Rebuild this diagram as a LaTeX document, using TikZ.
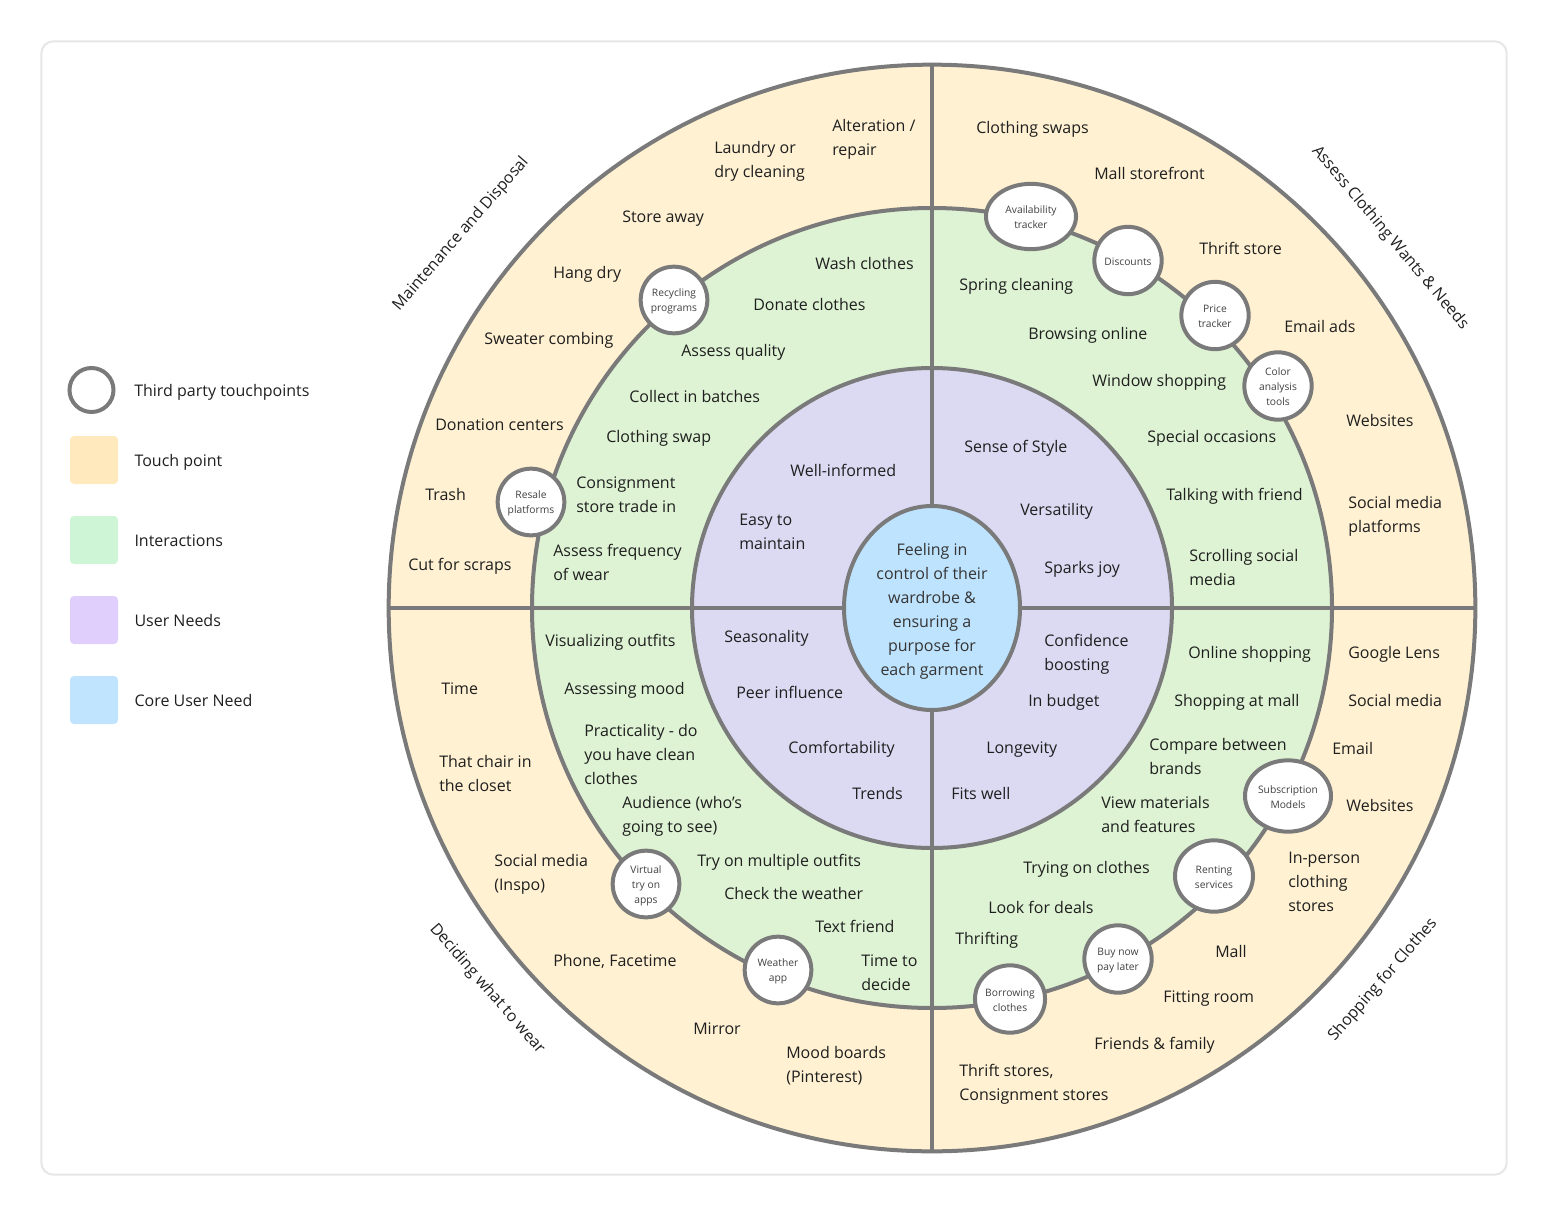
\documentclass[tikz,border=0pt]{standalone}
\usepackage{fontspec}
\setmainfont{Open Sans}
\usetikzlibrary{shapes.geometric,positioning}
\definecolor{linegrey}{HTML}{7A7A7A}
\definecolor{cardline}{HTML}{E6E6E6}
\definecolor{inktext}{HTML}{1F1F1F}
\definecolor{touchfill}{HTML}{FFF1D2}
\definecolor{greenfill}{HTML}{DDF3D3}
\definecolor{purplefill}{HTML}{DCD9F3}
\definecolor{corefill}{HTML}{BEE3FE}
\definecolor{legtouch}{HTML}{FFE9BD}
\definecolor{leggreen}{HTML}{CFF5D7}
\definecolor{legpurple}{HTML}{E0CFFD}
\definecolor{legcore}{HTML}{C1E4FE}
\newcommand{\thirdedge}{\rule[-1pt]{0pt}{9pt}}
\newcommand{\coreedge}{\rule[-2.2pt]{0pt}{16pt}}
\begin{document}
\begin{tikzpicture}[x=0.75pt, y=-0.75pt, node distance={60pt},
	ring/.style = {draw=linegrey, line width=3pt, circle, inner sep=0pt},
	third/.style = {draw=linegrey, line width=3pt, ellipse, fill=white, inner sep=0pt, align=center, text=inktext!85, font=\fontsize{7.7}{11.2}\selectfont},
	txt/.style = {anchor=west, align=left, inner sep=0pt, text=inktext, font=\fontsize{12}{18}\selectfont, execute at begin node={\rule[-2.9pt]{0pt}{16pt}}, execute at end node={\rule[-2.9pt]{0pt}{16pt}}},
	swatch/.style = {rounded corners=3pt, minimum size=36pt, inner sep=0pt},
	side/.style = {inner sep=0pt, text=inktext, font=\fontsize{12}{18}\selectfont}]
	\useasboundingbox (0,0) rectangle (1548,1216);
	\node[draw=cardline, line width=1.5pt, rounded corners=9pt, minimum width=1099pt, minimum height=850pt] (card) at (774,608) {};
	% rings
	\node[ring, fill=touchfill, minimum size=815pt] (outer) at (932,608) {};
	\node[ring, fill=greenfill, minimum size=600pt] (inter) at (932,608) {};
	\node[ring, fill=purplefill, minimum size=360pt] (needs) at (932,608) {};
	\node[draw=linegrey, line width=3pt, ellipse, fill=corefill, inner sep=0pt, minimum width=132pt, minimum height=153pt, align=center, text=inktext!90, font=\fontsize{12}{18}\selectfont] (core) at (932,608) {\coreedge Feeling in\\control of their\\wardrobe \&\\ensuring a\\purpose for\\each garment\coreedge};
	\draw[draw=linegrey, line width=3pt] (outer.north) -- (core.north);
	\draw[draw=linegrey, line width=3pt] (outer.south) -- (core.south);
	\draw[draw=linegrey, line width=3pt] (outer.west) -- (core.west);
	\draw[draw=linegrey, line width=3pt] (outer.east) -- (core.east);
	% third party touchpoints
	\node[third, minimum width=67.5pt, minimum height=49pt] (avail) at (1031,216.5) {\thirdedge Availability\\tracker\thirdedge};
	\node[third, minimum size=50.5pt] (discounts) at (1128,260.5) {\thirdedge Discounts};
	\node[third, minimum size=50.5pt] (price) at (1215,315.5) {\thirdedge Price\\tracker\thirdedge};
	\node[third, minimum size=50.5pt] (color) at (1278,386) {\thirdedge Color\\analysis\\tools\thirdedge};
	\node[third, minimum width=64.5pt, minimum height=53.5pt] (subscr) at (1288,796) {\thirdedge Subscription\\Models\thirdedge};
	\node[third, minimum width=58.5pt, minimum height=53.5pt] (renting) at (1214,876) {\thirdedge Renting\\services\thirdedge};
	\node[third, minimum size=50.5pt] (buynow) at (1118,959) {\thirdedge Buy now\\pay later\thirdedge};
	\node[third, minimum size=50.5pt] (borrow) at (1010,999) {\thirdedge Borrowing\\clothes\thirdedge};
	\node[third, minimum size=50pt] (weather) at (778,970) {\thirdedge Weather\\app\thirdedge};
	\node[third, minimum size=50pt] (virtual) at (646,884) {\thirdedge Virtual\\try on\\apps\thirdedge};
	\node[third, minimum size=50pt] (resale) at (531,502) {\thirdedge Resale\\platforms\thirdedge};
	\node[third, minimum size=50pt] (recycle) at (674,300) {\thirdedge Recycling\\programs\thirdedge};
	% touch points
	\node[txt] (swaps) at (976,127) {Clothing swaps};
	\node[txt] (mall1) at (1094,173) {Mall storefront};
	\node[txt] (thrift) at (1199,248) {Thrift store};
	\node[txt] (email1) at (1284,326) {Email ads};
	\node[txt] (web1) at (1346,420) {Websites};
	\node[txt] (social1) at (1348,516.5) {Social media\\platforms};
	\node[txt] (lens) at (1348,652) {Google Lens};
	\node[txt] (social2) at (1348,700) {Social media};
	\node[txt] (email2) at (1332,748) {Email};
	\node[txt] (web2) at (1346,805) {Websites};
	\node[txt] (inperson) at (1288,883.5) {In-person\\clothing\\stores};
	\node[txt] (mall2) at (1215,951) {Mall};
	\node[txt] (fitting) at (1163,996) {Fitting room};
	\node[txt] (friends) at (1094,1043) {Friends \& family};
	\node[txt] (thriftst) at (959,1084.5) {Thrift stores,\\Consignment stores};
	\node[txt] (time) at (441,688) {Time};
	\node[txt] (chair) at (439,775.5) {That chair in\\the closet};
	\node[txt] (inspo) at (494,874.5) {Social media\\(Inspo)};
	\node[txt] (phone) at (553,960) {Phone, Facetime};
	\node[txt] (mirror) at (693,1028) {Mirror};
	\node[txt] (mood) at (786,1066.5) {Mood boards\\(Pinterest)};
	\node[txt] (alter) at (832,139.5) {Alteration /\\repair};
	\node[txt] (laundry) at (714,161.5) {Laundry or\\dry cleaning};
	\node[txt] (store) at (622,216) {Store away};
	\node[txt] (hang) at (553,272) {Hang dry};
	\node[txt] (sweater) at (484,338) {Sweater combing};
	\node[txt] (donation) at (435,424) {Donation centers};
	\node[txt] (trash) at (425,494) {Trash};
	\node[txt] (scraps) at (408,564) {Cut for scraps};
	% interactions
	\node[txt] (spring) at (959,284) {Spring cleaning};
	\node[txt] (browse) at (1028,333) {Browsing online};
	\node[txt] (window) at (1092,380) {Window shopping};
	\node[txt] (special) at (1147,436) {Special occasions};
	\node[txt] (talking) at (1166,494) {Talking with friend};
	\node[txt] (scroll) at (1189,569.5) {Scrolling social\\media};
	\node[txt] (online) at (1188,652) {Online shopping};
	\node[txt] (atmall) at (1174,700) {Shopping at mall};
	\node[txt] (compare) at (1149,758.5) {Compare between\\brands};
	\node[txt] (materials) at (1101,816.5) {View materials\\and features};
	\node[txt] (trying) at (1023,867) {Trying on clothes};
	\node[txt] (deals) at (988,907) {Look for deals};
	\node[txt] (thrifting) at (955,938) {Thrifting};
	\node[txt] (visual) at (545,640) {Visualizing outfits};
	\node[txt] (assess) at (564,688) {Assessing mood};
	\node[txt] (practical) at (584,756.5) {Practicality - do\\you have clean\\clothes};
	\node[txt] (audience) at (622,816.5) {Audience (who’s\\going to see)};
	\node[txt] (tryon) at (697,860) {Try on multiple outfits};
	\node[txt] (check) at (724,893) {Check the weather};
	\node[txt] (textfr) at (815,926) {Text friend};
	\node[txt] (decide) at (861,974.5) {Time to\\decide};
	\node[txt] (wash) at (815,263) {Wash clothes};
	\node[txt] (donate) at (753,304) {Donate clothes};
	\node[txt] (quality) at (681,350) {Assess quality};
	\node[txt] (batches) at (629,396) {Collect in batches};
	\node[txt] (swap) at (606,436) {Clothing swap};
	\node[txt] (consign) at (576,496.5) {Consignment\\store trade in};
	\node[txt] (freq) at (553,564.5) {Assess frequency\\of wear};
	% user needs
	\node[txt] (informed) at (790,470) {Well-informed};
	\node[txt] (easy) at (739,533.5) {Easy to\\maintain};
	\node[txt] (style) at (964,446) {Sense of Style};
	\node[txt] (versatile) at (1020,509) {Versatility};
	\node[txt] (joy) at (1044,567) {Sparks joy};
	\node[txt] (season) at (724,636) {Seasonality};
	\node[txt] (peer) at (736,692) {Peer influence};
	\node[txt] (comfort) at (788,747) {Comfortability};
	\node[txt] (trends) at (852,793) {Trends};
	\node[txt] (confid) at (1044,654.5) {Confidence\\boosting};
	\node[txt] (budget) at (1028,700) {In budget};
	\node[txt] (longev) at (986,747) {Longevity};
	\node[txt] (fits) at (951,793) {Fits well};
	% quadrant names
	\node[side, rotate=-50] (qassess) at (1390,238) {Assess Clothing Wants \& Needs};
	\node[side, rotate=49] (qmaint) at (461,234) {Maintenance and Disposal};
	\node[side, rotate=-49] (qdecide) at (487,989) {Deciding what to wear};
	\node[side, rotate=49] (qshop) at (1383,980) {Shopping for Clothes};
	% legend
	\node[draw=linegrey, line width=3pt, circle, minimum size=33pt, inner sep=0pt] (legthird) at (91.5,390) {};
	\node[swatch, fill=legtouch] (legtp) at (94,460) {};
	\node[swatch, fill=leggreen, below of=legtp] (legint) {};
	\node[swatch, fill=legpurple, below of=legint] (legun) {};
	\node[swatch, fill=legcore, below of=legun] (legcu) {};
	\node[txt] (lt0) at (134,390) {Third party touchpoints};
	\node[txt, right=12pt of legtp] (lt1) {Touch point};
	\node[txt, right=12pt of legint] (lt2) {Interactions};
	\node[txt, right=12pt of legun] (lt3) {User Needs};
	\node[txt, right=12pt of legcu] (lt4) {Core User Need};
\end{tikzpicture}
\end{document}
